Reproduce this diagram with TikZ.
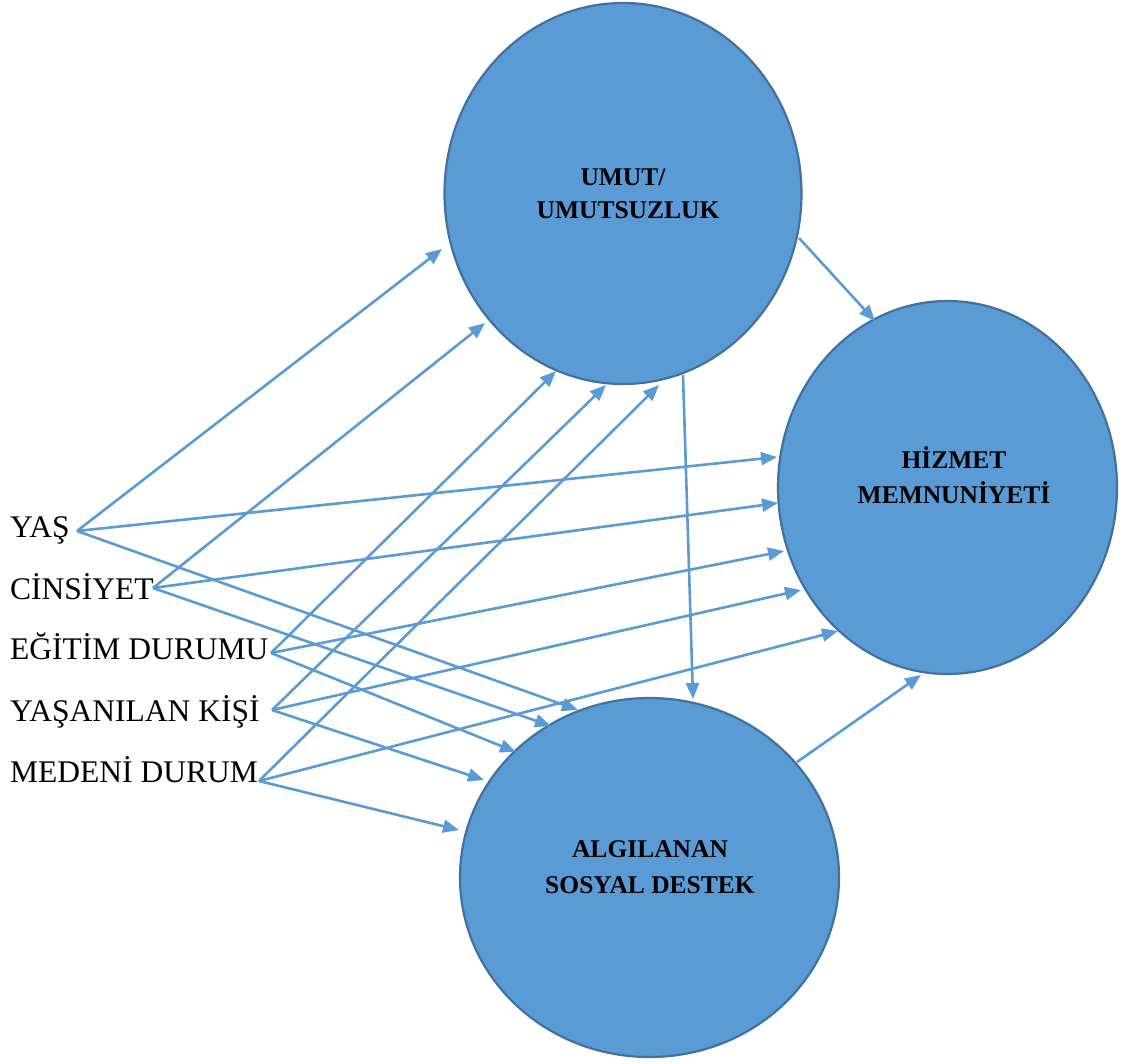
\documentclass[tikz,border=0pt]{standalone}
\usepackage{fontspec}
\setmainfont{Liberation Serif}
\usetikzlibrary{arrows.meta,shapes.geometric}
\definecolor{fillb}{HTML}{5B9BD5}
\definecolor{edgeb}{HTML}{41719C}
\begin{document}
\begin{tikzpicture}[x=1pt,y=-1pt,
 bubble/.style={ellipse, draw=edgeb, fill=fillb, line width=2.2pt, inner sep=0pt, outer sep=0pt},
 conn/.style={draw=fillb, line width=2.6pt, -{Triangle[length=16pt,width=13pt]}},
 lbl/.style={font=\fontsize{31.5}{38}\selectfont, anchor=base west, inner sep=0pt},
 clbl/.style={font=\fontsize{25.5}{30}\selectfont\bfseries, anchor=base, inner sep=0pt}]
\useasboundingbox (0,0) rectangle (1139,1063);
% circles
\node[bubble, minimum width=357pt, minimum height=381pt] (u) at (623,193.5) {};
\node[bubble, minimum width=339pt, minimum height=373pt] (h) at (947.5,487.5) {};
\node[bubble, minimum width=379pt, minimum height=359pt] (a) at (649.5,877.5) {};
% circle labels
\node[clbl] (u1) at (623,185) {UMUT/};
\node[clbl] (u2) at (628,218) {UMUTSUZLUK};
\node[clbl] (h1) at (954,468) {HİZMET};
\node[clbl] (h2) at (954,503) {MEMNUNİYETİ};
\node[clbl] (a1) at (650,857) {ALGILANAN};
\node[clbl] (a2) at (650,893) {SOSYAL DESTEK};
% left labels
\node[lbl] (yas) at (10,537) {YAŞ};
\node[lbl] (cin) at (10,599) {CİNSİYET};
\node[lbl] (egi) at (10,659) {EĞİTİM DURUMU};
\node[lbl] (yk) at (10,721) {YAŞANILAN KİŞİ};
\node[lbl] (med) at (10,782) {MEDENİ DURUM};
% start points
\coordinate (yasP) at (77,531);
\coordinate (cinP) at (153,588);
\coordinate (egiP) at (271,653);
\coordinate (ykP) at (272,710);
\coordinate (medP) at (259,781);
% end points on UMUT
\coordinate (u-yas) at (442,249);
\coordinate (u-cin) at (485,323);
\coordinate (u-egi) at (556,371);
\coordinate (u-yk) at (606,385);
\coordinate (u-med) at (659,385);
% end points on HIZMET
\coordinate (h-yas) at (777,457);
\coordinate (h-cin) at (778,503);
\coordinate (h-egi) at (784,551);
\coordinate (h-yk) at (801,590);
\coordinate (h-med) at (838,631);
% end points on ALGILANAN
\coordinate (a-yas) at (578,710);
\coordinate (a-cin) at (551,726);
\coordinate (a-egi) at (516,752);
\coordinate (a-yk) at (484,780);
\coordinate (a-med) at (459,830);
% inter-circle points
\coordinate (uh1) at (799,238);
\coordinate (uh2) at (875,321);
\coordinate (ua1) at (683,375);
\coordinate (ua2) at (693,699);
\coordinate (ah1) at (797,762);
\coordinate (ah2) at (921,675);
% connectors
\foreach \s in {yas,cin,egi,yk,med}{
  \draw[conn] (\s P) -- (u-\s);
  \draw[conn] (\s P) -- (h-\s);
  \draw[conn] (\s P) -- (a-\s);
}
\draw[conn] (uh1) -- (uh2);
\draw[conn] (ua1) -- (ua2);
\draw[conn] (ah1) -- (ah2);
\end{tikzpicture}
\end{document}
